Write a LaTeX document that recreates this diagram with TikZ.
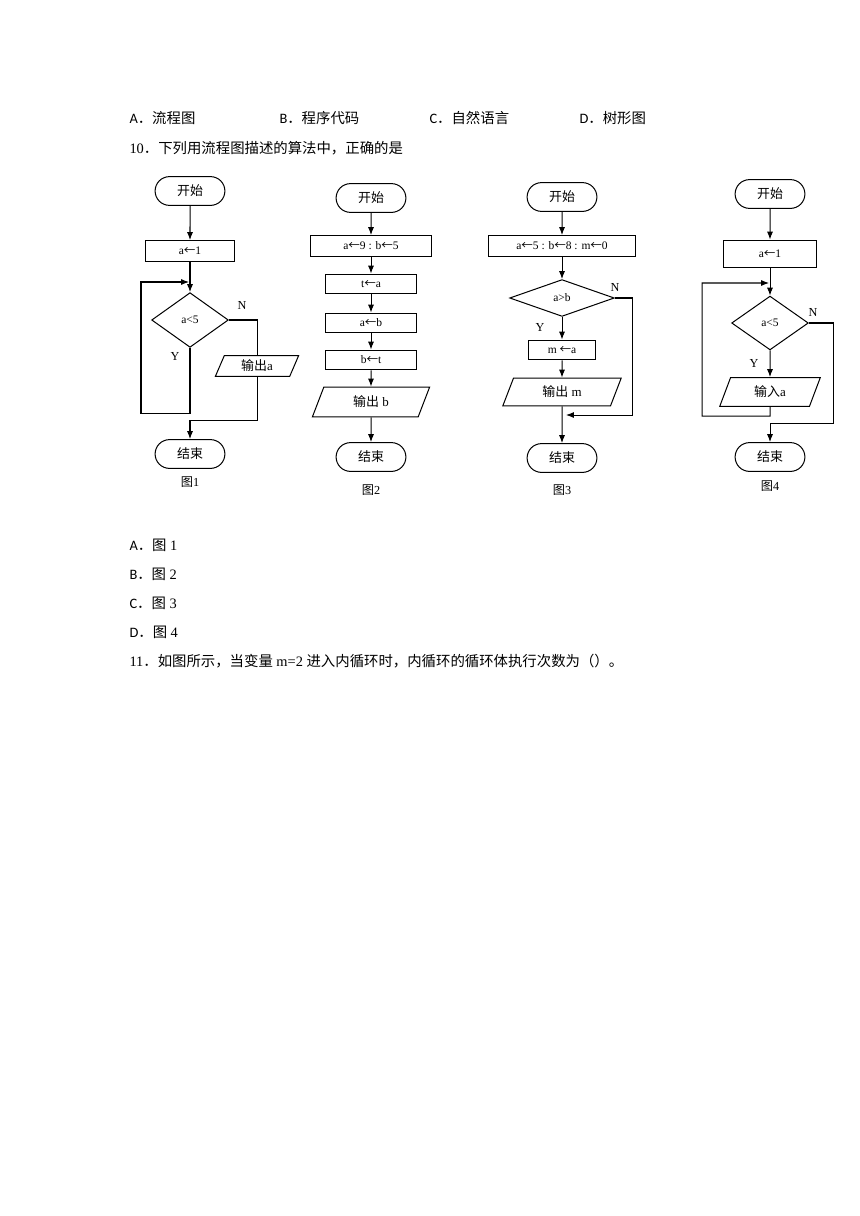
\documentclass[tikz,border=0pt]{standalone}
\usepackage{fontspec}
\setmainfont{Liberation Serif}
\newfontfamily\cjk{Noto Sans CJK SC}
\newfontfamily\optfont{Carlito}
\usetikzlibrary{%
  arrows.meta,
  shapes.misc,
  shapes.geometric
}
\newcommand{\la}{{\cjk ←}}

\begin{document}
\begin{tikzpicture}[x=0.2442mm, y=-0.2442mm, >={Latex[length=5.5pt,width=4.2pt]}, line width=0.7pt,
    term/.style={draw, rounded rectangle, minimum width=48.5pt, minimum height=20pt, inner sep=0pt, font=\cjk\fontsize{9}{10}\selectfont},
    proc/.style={draw, rectangle, minimum height=14.5pt, inner sep=0pt, font=\fontsize{8}{10}\selectfont},
    dec/.style={draw, diamond, inner sep=0pt, font=\fontsize{8}{10}\selectfont},
    io/.style={draw, trapezium, trapezium left angle=70, trapezium right angle=110, trapezium stretches=true, inner sep=0pt, font=\fontsize{9}{10}\selectfont},
    lbl/.style={inner sep=0pt, font=\fontsize{8.5}{10}\selectfont},
    txt/.style={anchor=west, inner sep=0pt, font=\fontsize{10}{12}\selectfont}]
    \useasboundingbox (0,0) rectangle (860,1216);

    %Question text
    \node[txt] (qa) at (129,118) {{\optfont A}{\cjk ．流程图}};
    \node[txt] (qb) at (279,118) {{\optfont B}{\cjk ．程序代码}};
    \node[txt] (qc) at (429,118) {{\optfont C}{\cjk ．自然语言}};
    \node[txt] (qd) at (579,118) {{\optfont D}{\cjk ．树形图}};
    \node[txt] (q10) at (129,148) {10{\cjk ．下列用流程图描述的算法中，正确的是}};

    % Figure 1
    \node[term] (s1) at (190,191) {开始};
    \node[proc, minimum width=61.6pt] (r1) at (190,251) {a\la1};
    \node[dec, minimum width=53.3pt, minimum height=38pt] (d1) at (190,320) {a<5};
    \node[io, minimum width=58pt, minimum height=14.5pt] (o1) at (257,366) {{\cjk 输出}a};
    \node[term] (e1) at (190,454) {结束};
    \node[lbl] (n1) at (242,305) {N};
    \node[lbl] (y1) at (175,356) {Y};
    \node[lbl] (t1) at (190,482) {{\cjk 图}1};
    \coordinate (c1a) at (190,413);
    \coordinate (c1b) at (141,282);
    \coordinate (c1c) at (189,282);
    \coordinate (c1d) at (190,420);
    \draw[->] (s1) -- (r1);
    \draw[->] (r1) -- (d1);
    \draw[->] (d1.south) -- (c1a) -| (c1b) -- (c1c);
    \draw (d1.east) -| (o1.north);
    \draw[->] (o1.south) |- (c1d) -- (e1.north);

    % Figure 2
    \node[term] (s2) at (371,198) {开始};
    \node[proc, minimum width=84.5pt] (r2a) at (371,246) {a\la9 : b\la5};
    \node[proc, minimum width=63.7pt, minimum height=13.8pt] (r2b) at (371,284) {t\la a};
    \node[proc, minimum width=63.7pt, minimum height=13.8pt] (r2c) at (371,323) {a\la b};
    \node[proc, minimum width=63.7pt, minimum height=13.8pt] (r2d) at (371,360) {b\la t};
    \node[io, minimum width=81.7pt, minimum height=20.8pt] (o2) at (371,402) {{\cjk 输出} b};
    \node[term] (e2) at (371,457) {结束};
    \node[lbl] (t2) at (371,490) {{\cjk 图}2};
    \draw[->] (s2) -- (r2a);
    \draw[->] (r2a) -- (r2b);
    \draw[->] (r2b) -- (r2c);
    \draw[->] (r2c) -- (r2d);
    \draw[->] (r2d) -- (o2);
    \draw[->] (o2) -- (e2);

    % Figure 3
    \node[term] (s3) at (562,197) {开始};
    \node[proc, minimum width=101.8pt] (r3a) at (562,246) {a\la5 : b\la8 : m\la0};
    \node[dec, minimum width=72.7pt, minimum height=25.6pt] (d3) at (562,298) {a>b};
    \node[proc, minimum width=46.4pt, minimum height=13.8pt] (r3b) at (562,350) {m \la a};
    \node[io, minimum width=82.4pt, minimum height=19.4pt] (o3) at (562,392) {{\cjk 输出} m};
    \node[term] (e3) at (562,458) {结束};
    \node[lbl] (n3) at (615,287) {N};
    \node[lbl] (y3) at (540,327) {Y};
    \node[lbl] (t3) at (562,490) {{\cjk 图}3};
    \coordinate (c3a) at (632,415);
    \coordinate (c3b) at (566,415);
    \draw[->] (s3) -- (r3a);
    \draw[->] (r3a) -- (d3);
    \draw[->] (d3) -- (r3b);
    \draw[->] (r3b) -- (o3);
    \draw[->] (o3) -- (e3);
    \draw[->] (d3.east) -| (c3a) -- (c3b);

    % Figure 4
    \node[term] (s4) at (770,194) {开始};
    \node[proc, minimum width=64.4pt, minimum height=19.4pt] (r4) at (770,254) {a\la1};
    \node[dec, minimum width=53.3pt, minimum height=37.4pt] (d4) at (770,323) {a<5};
    \node[io, minimum width=70pt, minimum height=20pt] (o4) at (770,392) {{\cjk 输入}a};
    \node[term] (e4) at (770,457) {结束};
    \node[lbl] (n4) at (813,312) {N};
    \node[lbl] (y4) at (754,363) {Y};
    \node[lbl] (t4) at (770,486) {{\cjk 图}4};
    \coordinate (c4a) at (770,416);
    \coordinate (c4b) at (702,283);
    \coordinate (c4c) at (769,283);
    \coordinate (c4d) at (833,423);
    \coordinate (c4e) at (770,423);
    \draw[->] (s4) -- (r4);
    \draw[->] (r4) -- (d4);
    \draw[->] (d4) -- (o4);
    \draw[->] (o4.south) -- (c4a) -| (c4b) -- (c4c);
    \draw[->] (d4.east) -| (c4d) -- (c4e) -- (e4.north);

    %Answers
    \node[txt] (aa) at (129,545) {{\optfont A}{\cjk ．图} 1};
    \node[txt] (ab) at (129,574) {{\optfont B}{\cjk ．图} 2};
    \node[txt] (ac) at (129,603) {{\optfont C}{\cjk ．图} 3};
    \node[txt] (ad) at (129,632) {{\optfont D}{\cjk ．图} 4};
    \node[txt] (q11) at (129,661) {11{\cjk ．如图所示，当变量} m=2 {\cjk 进入内循环时，内循环的循环体执行次数为（）。}};

\end{tikzpicture}
\end{document}
